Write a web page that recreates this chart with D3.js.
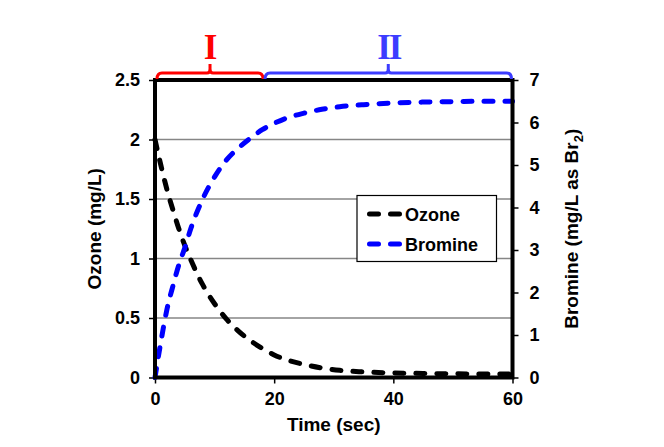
<!DOCTYPE html>
<html>
<head>
<meta charset="utf-8">
<script src="https://cdn.jsdelivr.net/npm/d3@7"></script>
<style>
  html, body { margin: 0; padding: 0; background: #fff; }
  svg { display: block; }
  text { font-family: "Liberation Sans", Arial, sans-serif; font-weight: bold; }
</style>
</head>
<body>
<svg id="chart" width="664" height="447"></svg>
<script>
// ---- data ----
const time = [0, 1, 2, 3, 4, 5, 6, 8, 10, 12, 14, 16, 18, 20, 22, 25, 28, 31, 35, 40, 45, 50, 55, 60];
const ozone = [2.00, 1.78, 1.58, 1.41, 1.25, 1.11, 0.99, 0.78, 0.62, 0.49, 0.39, 0.31, 0.245, 0.19, 0.15, 0.11, 0.08, 0.06, 0.047, 0.038, 0.034, 0.031, 0.03, 0.03];
const bromine = [0, 0.85, 1.6, 2.15, 2.65, 3.05, 3.5, 4.2, 4.72, 5.12, 5.4, 5.63, 5.83, 5.98, 6.1, 6.22, 6.31, 6.37, 6.42, 6.46, 6.48, 6.49, 6.5, 6.5];
const xTicks = [0, 20, 40, 60];
const ozoneTicks = [0, 0.5, 1, 1.5, 2, 2.5];
const bromineTicks = [0, 1, 2, 3, 4, 5, 6, 7];
const seriesNames = ["Ozone", "Bromine"];
const phaseLabels = ["I", "II"];
const phaseStart = [0, 18.3];
const phaseEnd = [18.3, 60];

// ---- layout ----
const svg = d3.select("#chart");
const L = 155, R = 512.5, T = 80, B = 377.5;
const x = d3.scaleLinear().domain([0, 60]).range([L, R]);
const yL = d3.scaleLinear().domain([0, 2.5]).range([B, T]);
const yR = d3.scaleLinear().domain([0, 7]).range([B, T]);

// gridlines
svg.append("g").selectAll("line")
  .data(ozoneTicks.filter(d => d > 0 && d < 2.5))
  .join("line")
  .attr("x1", L).attr("x2", R)
  .attr("y1", d => yL(d)).attr("y2", d => yL(d))
  .attr("stroke", "#868686").attr("stroke-width", 1.6);

// axes
function styleAxis(g) {
  g.select(".domain").remove();
  g.selectAll(".tick line").attr("stroke", "#000").attr("stroke-width", 1.5);
  g.selectAll(".tick text").attr("fill", "#000")
    .style("font-size", "18px").style("font-weight", "bold")
    .style("font-family", "'Liberation Sans', Arial, sans-serif");
}
svg.append("g").attr("transform", `translate(${L},0)`)
  .call(d3.axisLeft(yL).tickValues(ozoneTicks).tickSize(6).tickPadding(9).tickFormat(d3.format("")))
  .call(styleAxis);
svg.append("g").attr("transform", `translate(${R},0)`)
  .call(d3.axisRight(yR).tickValues(bromineTicks).tickSize(6).tickPadding(11).tickFormat(d3.format("d")))
  .call(styleAxis);
svg.append("g").attr("transform", `translate(0,${B})`)
  .call(d3.axisBottom(x).tickValues(xTicks).tickSize(6).tickPadding(9).tickFormat(d3.format("d")))
  .call(styleAxis);

// lines
const lineO = d3.line().x((d, i) => x(time[i])).y(d => yL(d)).curve(d3.curveMonotoneX);
const lineB = d3.line().x((d, i) => x(time[i])).y(d => yR(d)).curve(d3.curveMonotoneX);
const colors = ["#000000", "#0000ff"];
svg.append("path").attr("d", lineO(ozone)).attr("fill", "none")
  .attr("stroke", colors[0]).attr("stroke-width", 5)
  .attr("stroke-dasharray", "9,12").attr("stroke-linecap", "round");
svg.append("path").attr("d", lineB(bromine)).attr("fill", "none")
  .attr("stroke", colors[1]).attr("stroke-width", 5)
  .attr("stroke-dasharray", "9,12").attr("stroke-linecap", "round");

// frame
svg.append("rect").attr("x", L).attr("y", T).attr("width", R - L).attr("height", B - T)
  .attr("fill", "none").attr("stroke", "#000").attr("stroke-width", 4);

// axis titles
svg.append("text").attr("x", x(30)).attr("y", 431).attr("text-anchor", "middle")
  .style("font-size", "19px").text("Time (sec)");
svg.append("text").attr("transform", `translate(101,${(T + B) / 2}) rotate(-90)`)
  .attr("text-anchor", "middle").style("font-size", "19px").text("Ozone (mg/L)");
const rt = svg.append("text").attr("transform", `translate(578,${(T + B) / 2}) rotate(-90)`)
  .attr("text-anchor", "middle").style("font-size", "19px");
rt.append("tspan").text("Bromine (mg/L as Br");
rt.append("tspan").attr("dy", 5).style("font-size", "13px").text("2");
rt.append("tspan").attr("dy", -5).text(")");

// legend
const lg = svg.append("g");
lg.append("rect").attr("x", 357).attr("y", 195.5).attr("width", 139.5).attr("height", 66)
  .attr("fill", "#fff").attr("stroke", "#000").attr("stroke-width", 1.2);
seriesNames.forEach((name, i) => {
  const yy = 214 + i * 30;
  lg.append("line").attr("x1", 369.5).attr("x2", 400.5).attr("y1", yy).attr("y2", yy)
    .attr("stroke", colors[i]).attr("stroke-width", 5)
    .attr("stroke-dasharray", "9,12").attr("stroke-linecap", "round");
  lg.append("text").attr("x", 405).attr("y", yy + 6.5).style("font-size", "18px").text(name);
});

// phase brackets
const phaseColors = ["#ff0000", "#3c3cff"];
phaseLabels.forEach((lab, i) => {
  const x0 = x(phaseStart[i]) + (i === 0 ? 2 : 1), x1 = x(phaseEnd[i]) - (i === 0 ? 1 : 1);
  const xc = (x0 + x1) / 2;
  const yb = 73, yl = 79, yt = 64;
  const p = `M${x0},${yl} Q${x0},${yb} ${x0 + 5},${yb} L${xc - 3},${yb} Q${xc},${yb} ${xc},${yb - 4} L${xc},${yt}` +
            ` M${xc},${yb - 4} Q${xc},${yb} ${xc + 3},${yb} L${x1 - 5},${yb} Q${x1},${yb} ${x1},${yl}`;
  svg.append("path").attr("d", p).attr("fill", "none").attr("stroke", phaseColors[i])
    .attr("stroke-width", 3).attr("stroke-linejoin", "round");
  svg.append("text").attr("x", xc + 0.5).attr("y", 58.5).attr("text-anchor", "middle")
    .style("font-family", "'Liberation Serif', 'Times New Roman', serif")
    .style("font-size", "35px").style("font-weight", "bold")
    .style("letter-spacing", i === 1 ? "-2px" : "0px")
    .attr("fill", phaseColors[i]).text(lab);
});
</script>
</body>
</html>
